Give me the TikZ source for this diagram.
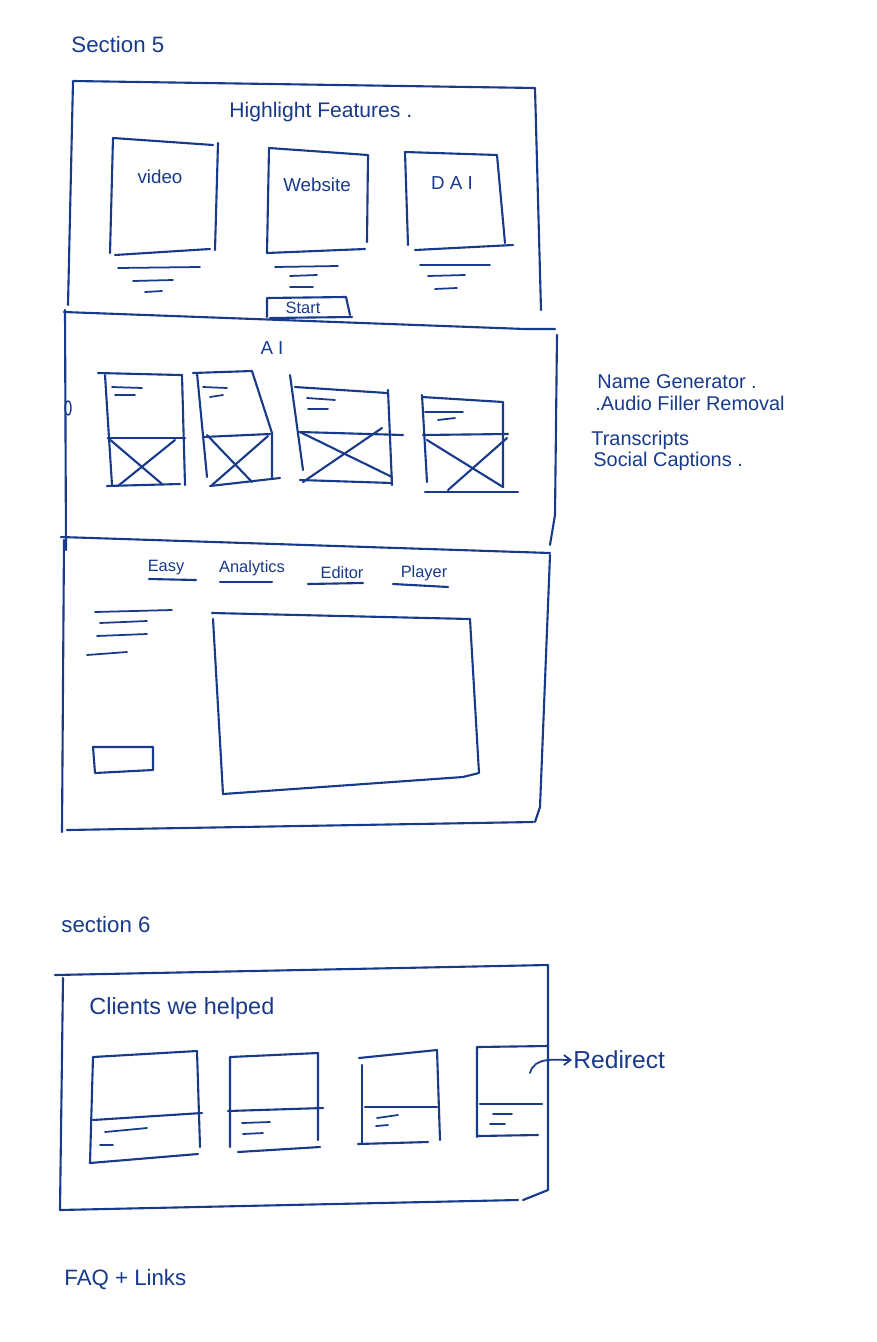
\documentclass[tikz,border=0pt]{standalone}
\usepackage{fontspec}
\setmainfont{Liberation Sans}
\definecolor{inkblue}{RGB}{24,58,138}
\usepackage{tikz}
\usetikzlibrary{arrows.meta, positioning}
\tikzset{
  inkline/.style={draw=inkblue, line width=1.8pt},
  txtline/.style={draw=inkblue, line width=1.5pt},
  myarrow/.style={-{Straight Barb[length=2mm,width=3mm]}, inkblue, line width=1.5pt},
  mylbl/.style={text=inkblue, anchor=west, inner sep=1pt, font=\fontsize{19}{21}\selectfont},
  boxlbl/.style={text=inkblue, inner sep=1pt, font=\fontsize{16}{18}\selectfont},
  tablbl/.style={text=inkblue, inner sep=1pt, font=\fontsize{14}{16}\selectfont},
  listlbl/.style={text=inkblue, anchor=west, inner sep=1pt, font=\fontsize{17}{19}\selectfont},
}

\begin{document}
\begin{tikzpicture}[x=0.3mm, y=-0.3mm, line cap=round, line join=round]
      \useasboundingbox[fill=white] (0,0) rectangle (876,1342);

      % === Section 5 ===
      \node[mylbl] (sec5lbl) at (70,45) {Section 5};

      % outer frame and panel dividers
      \draw[inkline] (68,305) -- (73,81) -- (535,88) -- (541,310);
      \draw[inkline] (64,312) -- (525,329) -- (555,329);
      \draw[inkline] (557,335) -- (555,515) -- (550,545);
      \draw[inkline] (65,310) -- (66,550);
      \draw[inkline] (61,537) -- (550,553);
      \draw[inkline] (550,555) -- (540,807) -- (535,822);
      \draw[inkline] (64,540) -- (62,832);
      \draw[inkline] (67,830) -- (533,822);

      % --- panel 1: highlight features ---
      \node[boxlbl, anchor=west, font=\fontsize{18}{20}\selectfont] (hlfeat) at (228,112) {Highlight Features .};

      \draw[inkline] (110,253) -- (113,138) -- (213,145);
      \draw[inkline] (218,143) -- (215,250);
      \draw[inkline] (115,255) -- (210,249);
      \node[boxlbl] (videolbl) at (160,177) {video};

      \draw[inkline] (267,253) -- (269,148) -- (368,155) -- (367,242);
      \draw[inkline] (267,253) -- (365,249);
      \node[boxlbl] (weblbl) at (317,185) {Website};

      \draw[inkline] (408,245) -- (405,152) -- (497,155) -- (505,243);
      \draw[inkline] (415,250) -- (513,245);
      \node[boxlbl] (dailbl) at (452,183) {D A I};

      % text placeholders under the features
      \draw[txtline] (118,268) -- (200,267);
      \draw[txtline] (133,281) -- (173,280);
      \draw[txtline] (145,292) -- (162,291);
      \draw[txtline] (275,267) -- (338,266);
      \draw[txtline] (290,276) -- (317,275);
      \draw[txtline] (290,287) -- (313,287);
      \draw[txtline] (420,265) -- (490,265);
      \draw[txtline] (428,276) -- (465,275);
      \draw[txtline] (435,289) -- (457,288);

      \draw[inkline] (267,317) -- (267,298) -- (346,297) -- (350,315);
      \draw[inkline] (270,318) -- (352,317);
      \node[tablbl] (startlbl) at (303,308) {Start};

      % --- panel 2: AI tools ---
      \node[boxlbl] (ailbl) at (272,348) {A I};
      \draw[inkblue, line width=1.2pt] (68,408) ellipse (3 and 7);

      % card 1
      \draw[inkline] (112,485) -- (105,375);
      \draw[inkline] (98,373) -- (180,375) -- (182,375) -- (185,485);
      \draw[inkline] (108,438) -- (185,438);
      \draw[inkline] (107,486) -- (180,484);
      \draw[inkline] (108,438) -- (162,484);
      \draw[inkline] (175,440) -- (118,486);
      \draw[txtline] (112,387) -- (142,388);
      \draw[txtline] (115,395) -- (135,395);
      % card 2
      \draw[inkline] (207,477) -- (197,373);
      \draw[inkline] (193,373) -- (252,371) -- (272,433) -- (272,478);
      \draw[inkline] (203,437) -- (270,434);
      \draw[inkline] (210,486) -- (280,478);
      \draw[inkline] (207,435) -- (252,482);
      \draw[inkline] (268,436) -- (212,485);
      \draw[txtline] (203,387) -- (227,388);
      \draw[txtline] (210,397) -- (223,395);
      % card 3
      \draw[inkline] (290,375) -- (303,470);
      \draw[inkline] (295,387) -- (387,393);
      \draw[inkline] (388,390) -- (392,485);
      \draw[inkline] (300,432) -- (403,435);
      \draw[inkline] (300,480) -- (392,483);
      \draw[inkline] (300,432) -- (392,477);
      \draw[inkline] (382,428) -- (303,482);
      \draw[txtline] (307,398) -- (335,400);
      \draw[txtline] (308,409) -- (328,409);
      % card 4
      \draw[inkline] (422,395) -- (427,482);
      \draw[inkline] (422,397) -- (503,402) -- (503,487);
      \draw[inkline] (423,435) -- (508,434);
      \draw[inkline] (425,492) -- (518,492);
      \draw[inkline] (427,440) -- (503,487);
      \draw[inkline] (507,438) -- (448,490);
      \draw[txtline] (425,412) -- (463,412);
      \draw[txtline] (438,420) -- (455,418);

      % AI tool list
      \node[listlbl] (namegen) at (596,382) {Name Generator .};
      \node[listlbl] (audiofill) at (594,403) {.Audio Filler Removal};
      \node[listlbl] (transcr) at (590,440) {Transcripts};
      \node[listlbl] (socialcap) at (592,461) {Social Captions .};

      % --- panel 3: tabs and player ---
      \node[tablbl] (tabeasy) at (166,568) {Easy};
      \node[tablbl] (tabanalytics) at (252,568) {Analytics};
      \node[tablbl] (tabeditor) at (342,573) {Editor};
      \node[tablbl] (tabplayer) at (424,573) {Player};
      \draw[inkline] (149,579) -- (196,580);
      \draw[inkline] (220,582) -- (272,582);
      \draw[inkline] (308,584) -- (363,583);
      \draw[inkline] (393,584) -- (448,587);

      \draw[txtline] (95,612) -- (172,610);
      \draw[txtline] (100,623) -- (147,621);
      \draw[txtline] (97,636) -- (147,634);
      \draw[txtline] (87,655) -- (127,652);

      \draw[inkline] (93,747) -- (153,747) -- (153,770) -- (95,773) -- cycle;

      \draw[inkline] (212,613) -- (470,619) -- (479,773) -- (463,777) -- (223,794) -- (213,619);

      % === Section 6 ===
      \node[mylbl] (sec6lbl) at (60,925) {section 6};

      \draw[inkline] (55,975) -- (548,965) -- (548,1190) -- (523,1200);
      \draw[inkline] (63,978) -- (60,1210) -- (518,1200);
      \node[mylbl, font=\fontsize{20}{22}\selectfont] (clientslbl) at (88,1008) {Clients we helped};

      % client card 1
      \draw[inkline] (90,1163) -- (93,1057) -- (197,1051) -- (200,1147);
      \draw[inkline] (93,1120) -- (202,1113);
      \draw[inkline] (90,1163) -- (198,1154);
      \draw[txtline] (105,1132) -- (147,1128);
      \draw[txtline] (100,1145) -- (113,1145);
      % client card 2
      \draw[inkline] (230,1147) -- (230,1057) -- (318,1053) -- (318,1140);
      \draw[inkline] (228,1111) -- (323,1108);
      \draw[inkline] (238,1152) -- (320,1147);
      \draw[txtline] (242,1123) -- (270,1122);
      \draw[txtline] (243,1134) -- (263,1133);
      % client card 3
      \draw[inkline] (362,1143) -- (362,1065);
      \draw[inkline] (359,1058) -- (437,1050) -- (440,1140);
      \draw[inkline] (365,1107) -- (437,1107);
      \draw[inkline] (358,1144) -- (428,1142);
      \draw[txtline] (377,1118) -- (398,1115);
      \draw[txtline] (376,1126) -- (388,1125);
      % client card 4
      \draw[inkline] (477,1137) -- (477,1047) -- (548,1046);
      \draw[inkline] (480,1104) -- (542,1104);
      \draw[inkline] (478,1136) -- (538,1135);
      \draw[txtline] (493,1114) -- (512,1114);
      \draw[txtline] (490,1124) -- (505,1124);

      % redirect note
      \node[mylbl, font=\fontsize{21}{23}\selectfont] (redirect) at (572,1060) {Redirect};
      \coordinate (rdstart) at (530,1073);
      \draw[myarrow] (rdstart) to[out=75, in=180] (redirect.west);

      % === footer ===
      \node[mylbl] (faqlbl) at (63,1280) {FAQ + Links};
\end{tikzpicture}
\end{document}
